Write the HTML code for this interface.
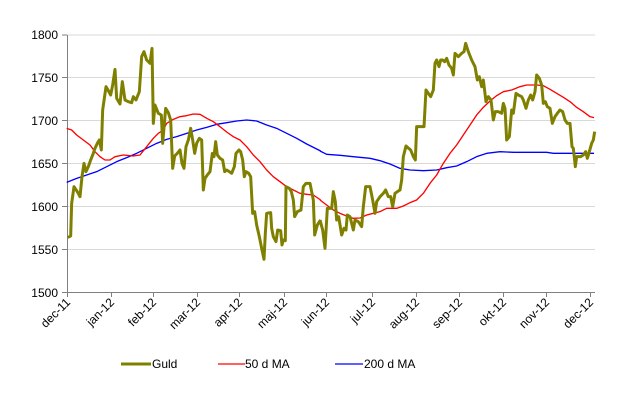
<!DOCTYPE html>
<html><head><meta charset="utf-8"><style>
html,body{margin:0;padding:0;background:#fff;}
svg{display:block;font-family:"Liberation Sans",Arial,sans-serif;}
</style></head><body>
<svg width="620" height="417" viewBox="0 0 620 417" xmlns="http://www.w3.org/2000/svg">
<g stroke="#d9d9d9" stroke-width="1">
<line x1="67" y1="35" x2="595" y2="35"/>
<line x1="67" y1="77.5" x2="595" y2="77.5"/>
<line x1="67" y1="120.5" x2="595" y2="120.5"/>
<line x1="67" y1="163.5" x2="595" y2="163.5"/>
<line x1="67" y1="206.5" x2="595" y2="206.5"/>
<line x1="67" y1="249.5" x2="595" y2="249.5"/>
</g>
<g stroke="#808080" stroke-width="1">
<line x1="67.5" y1="35" x2="67.5" y2="293"/>
<line x1="62" y1="292.5" x2="595" y2="292.5"/>
<line x1="62" y1="35" x2="67" y2="35"/><line x1="62" y1="77.5" x2="67" y2="77.5"/><line x1="62" y1="120.5" x2="67" y2="120.5"/><line x1="62" y1="163.5" x2="67" y2="163.5"/><line x1="62" y1="206.5" x2="67" y2="206.5"/><line x1="62" y1="249.5" x2="67" y2="249.5"/>
<line x1="67.5" y1="292" x2="67.5" y2="297"/><line x1="111.5" y1="292" x2="111.5" y2="297"/><line x1="153.5" y1="292" x2="153.5" y2="297"/><line x1="197.5" y1="292" x2="197.5" y2="297"/><line x1="239.5" y1="292" x2="239.5" y2="297"/><line x1="284.5" y1="292" x2="284.5" y2="297"/><line x1="326.5" y1="292" x2="326.5" y2="297"/><line x1="372.5" y1="292" x2="372.5" y2="297"/><line x1="416.5" y1="292" x2="416.5" y2="297"/><line x1="459.5" y1="292" x2="459.5" y2="297"/><line x1="503.5" y1="292" x2="503.5" y2="297"/><line x1="546.5" y1="292" x2="546.5" y2="297"/><line x1="590.5" y1="292" x2="590.5" y2="297"/>
</g>
<g font-size="12" fill="#000" text-anchor="end">
<text x="58" y="39">1800</text><text x="58" y="82">1750</text><text x="58" y="125">1700</text><text x="58" y="168">1650</text><text x="58" y="211">1600</text><text x="58" y="254">1550</text><text x="58" y="297">1500</text>
</g>
<g font-size="12" fill="#000" text-anchor="end">
<text transform="translate(71,303) rotate(-45)">dec-11</text>
<text transform="translate(115,303) rotate(-45)">jan-12</text>
<text transform="translate(157,303) rotate(-45)">feb-12</text>
<text transform="translate(201,303) rotate(-45)">mar-12</text>
<text transform="translate(243,303) rotate(-45)">apr-12</text>
<text transform="translate(288,303) rotate(-45)">maj-12</text>
<text transform="translate(330,303) rotate(-45)">jun-12</text>
<text transform="translate(376,303) rotate(-45)">jul-12</text>
<text transform="translate(420,303) rotate(-45)">aug-12</text>
<text transform="translate(463,303) rotate(-45)">sep-12</text>
<text transform="translate(507,303) rotate(-45)">okt-12</text>
<text transform="translate(550,303) rotate(-45)">nov-12</text>
<text transform="translate(594,303) rotate(-45)">dec-12</text>
</g>
<g fill="none" stroke-linejoin="round">
<g transform="translate(0,20) scale(0.33333)">
<polyline stroke="#0000ff" stroke-width="4" points="200,487 230,475 260,465 290,455 320,440 350,425 380,413 410,400 440,385 470,370 500,358 530,350 560,340 590,330 620,322 650,313 680,308 710,303 740,300 770,303 800,315 830,325 860,340 890,355 920,372 950,387 962,393"/>
<polyline stroke="#ff0000" stroke-width="4" points="200,325 215,330 230,345 250,360 270,375 285,395 300,410 315,420 330,420 345,410 370,405 400,408 420,405 440,380 460,355 475,340 490,330 500,310 520,298 540,290 560,287 580,282 600,283 620,295 640,305 660,320 680,336 700,350 720,360 740,380 760,405 780,425 800,450 820,470 840,485 860,500 880,510 900,520 920,523 940,525 962,540"/>
<polyline stroke="#808000" stroke-width="9" points="203,652 212,648 215,550 222,500 232,515 240,530 246,470 252,430 258,455 265,440 272,420 280,400 285,385 292,370 298,360 304,390 308,270 318,200 324,210 332,225 338,195 345,148 350,235 360,252 367,185 375,240 385,245 395,248 400,230 408,240 418,215 425,110 432,95 440,120 450,130 456,85 460,310 465,255 475,280 484,285 488,370 497,265 505,278 512,300 518,445 524,408 532,400 540,390 546,430 552,445 558,380 565,360 572,325 578,360 584,400 590,370 598,355 605,360 610,510 615,475 622,465 630,455 637,400 642,410 647,365 652,405 660,415 668,420 674,455 680,450 688,455 695,460 703,440 708,400 717,390 722,395 728,420 733,470 738,455 746,460 752,470 758,580 764,575 770,615 778,650 786,690 792,718 796,640 800,580 812,578 815,625 820,650 828,665 833,630 842,632 846,675 850,660 856,662 858,500 868,505 874,515 880,540 884,590 892,575 903,570 910,500 918,490 930,490 940,540 944,645 952,615 962,600"/>
</g>
<g transform="translate(320,20) scale(0.33333)">
<polyline stroke="#0000ff" stroke-width="4" points="0,393 20,403 60,406 100,410 150,415 180,422 210,432 240,445 270,450 310,452 350,450 380,443 410,438 440,425 470,410 500,400 540,395 580,397 640,397 680,397 700,400 822,400"/>
<polyline stroke="#ff0000" stroke-width="4" points="0,540 20,555 40,570 60,580 80,588 100,595 120,594 140,585 160,580 180,575 200,565 230,565 250,558 270,548 290,540 310,520 330,490 350,465 370,430 390,400 410,375 430,345 450,315 470,285 490,262 510,243 530,227 550,215 575,210 600,200 620,195 650,195 670,197 690,208 710,220 730,232 750,245 770,262 790,275 810,290 822,293"/>
<polyline stroke="#808000" stroke-width="9" points="0,600 8,630 15,685 22,565 35,565 40,515 46,545 50,600 56,590 65,645 72,625 78,630 82,585 90,590 100,630 105,600 115,605 125,620 130,560 137,500 150,500 158,540 165,580 170,545 180,530 190,520 197,510 205,530 212,530 218,560 225,520 232,515 240,510 245,480 250,410 258,378 266,385 272,390 280,410 286,420 290,320 298,320 305,320 312,320 318,210 325,220 332,230 340,210 345,130 350,120 357,140 362,120 368,120 374,125 380,115 387,135 395,145 400,165 405,100 415,110 425,100 432,95 437,70 445,95 455,120 465,140 472,180 478,170 485,200 490,180 498,245 505,230 513,240 520,300 526,275 535,275 545,280 550,250 555,265 560,360 568,350 575,270 580,280 588,220 595,225 605,230 610,240 618,265 625,240 632,225 638,240 645,215 650,165 658,175 665,195 670,250 676,245 682,260 690,265 697,310 705,290 712,280 720,270 728,275 735,300 742,310 750,310 756,380 760,385 766,440 770,410 782,410 790,405 797,395 802,415 808,395 815,370 820,360 824,335"/>
</g>
</g>
<line x1="121" y1="364" x2="151" y2="364" stroke="#808000" stroke-width="3"/>
<text x="152" y="368" font-size="12">Guld</text>
<line x1="218" y1="364" x2="245" y2="364" stroke="#ff0000" stroke-width="1.3"/>
<text x="245" y="368" font-size="12">50 d MA</text>
<line x1="335" y1="364" x2="363" y2="364" stroke="#0000ff" stroke-width="1.3"/>
<text x="364" y="368" font-size="12">200 d MA</text>
</svg>
</body></html>
